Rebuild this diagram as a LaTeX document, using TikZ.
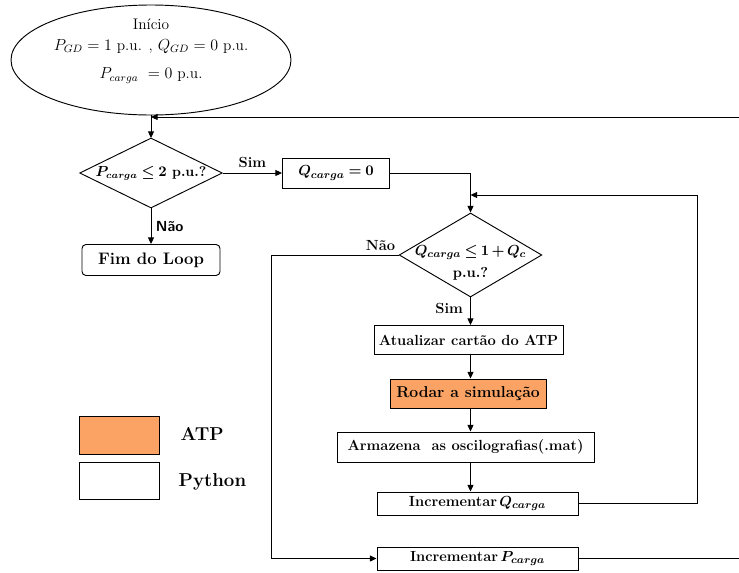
\documentclass[tikz,border=0pt]{standalone}
\usepackage{amsmath,amssymb}
\usepackage{xcolor}
\usetikzlibrary{shapes.geometric,arrows.meta}
\definecolor{atporange}{RGB}{250,163,100}

\begin{document}
\begin{tikzpicture}[x=0.75pt,y=-0.75pt,
  box/.style={draw, rectangle, line width=0.7pt, inner sep=1pt, font=\fontsize{11}{13}\selectfont\bfseries\boldmath},
  decision/.style={draw, diamond, line width=0.7pt, inner sep=0pt, font=\fontsize{10.5}{13}\selectfont\bfseries\boldmath},
  arr/.style={-{Triangle[length=5pt,width=4.5pt]}, line width=0.7pt},
  lbl/.style={font=\fontsize{11}{13}\selectfont\bfseries}]
\useasboundingbox (0,0) rectangle (739,572);

% Start
\node[draw, ellipse, line width=0.7pt, minimum width=210pt, minimum height=82.5pt, inner sep=0pt] (start) at (151,60) {};
\node[align=center, anchor=north, font=\fontsize{11.5}{13.5}\selectfont] (starttxt) at (151,14)
  {Início\\[2pt] $P_{GD} = 1$ p.u. , $Q_{GD} = 0$ p.u.\\[8pt] $P_{carga}\ = 0$ p.u.};

% Outer loop (P_carga)
\coordinate (m1) at (151,117);
\coordinate (rt1) at (739,117);
\draw[arr] (start.south) -- (151,138);
\draw[arr] (rt1) -- (m1);
\node[decision, minimum width=107pt, minimum height=52.5pt] (d1) at (151,173)
  {\makebox[0pt]{\medmuskip=3mu\thickmuskip=4mu$P_{carga} \le 2$ p.u.?}};
\node[draw, rectangle, rounded corners=3pt, line width=0.7pt, minimum width=103.5pt, minimum height=23.25pt,
  font=\fontsize{12.5}{14}\selectfont\bfseries] (fim) at (151,260) {Fim do Loop};
\draw[arr] (d1.south) -- node[right, font=\fontsize{11}{13}\selectfont\sffamily\bfseries] {Não} (fim.north);
\node[box, minimum width=80.25pt, minimum height=22.5pt] (q0) at (336,173) {\thickmuskip=4mu$Q_{carga} = 0$};
\draw[arr] (d1.east) -- node[lbl, above] {Sim} (q0.west);

% Inner loop (Q_carga)
\node[decision, minimum width=107pt, minimum height=63pt, font=\fontsize{10.8}{12}\selectfont\bfseries\boldmath] (d2) at (470.5,255)
  {\makebox[0pt]{\raisebox{-9pt}[0pt][0pt]{\medmuskip=2.5mu\thickmuskip=3.5mu\begin{tabular}{@{}c@{}}$Q_{carga} \le 1 + Q_c$\\[5pt] p.u.?\end{tabular}}}};
\draw[arr] (q0.east) -| (d2.north);
\node[box, minimum width=141.75pt, minimum height=21.75pt] (atu) at (468.5,340) {Atualizar cartão do ATP};
\node[box, fill=atporange, minimum width=117pt, minimum height=21.75pt, font=\fontsize{11.8}{13}\selectfont\bfseries] (rod) at (468,393.5) {Rodar a simulação};
\node[box, minimum width=192.75pt, minimum height=22.5pt] (arm) at (465.5,447) {Armazena\ \ as oscilografias(.mat)};
\node[box, minimum width=150.75pt, minimum height=17.25pt] (incq) at (477.5,503.5) {Incrementar\,$Q_{carga}$};
\node[box, minimum width=150.75pt, minimum height=17.25pt] (incp) at (477.5,558.5) {Incrementar\,$P_{carga}$};

\draw[arr] (d2.south) -- node[lbl, left, pos=0.4, xshift=-2pt] {Sim} (atu.north -| d2.south);
\draw[arr] (atu.south -| d2.south) -- (rod.north -| d2.south);
\draw[arr] (rod.south -| d2.south) -- (arm.north -| d2.south);
\draw[arr] (arm.south -| d2.south) -- (incq.north -| d2.south);

\coordinate (j2) at (470.5,195);
\coordinate (rq) at (697,195);
\draw[arr] (incq.east) -| (rq) -- (j2);
\coordinate (lq) at (271,255);
\draw[arr] (d2.west) node[lbl, above left, xshift=1pt] {Não} -- (lq) |- (incp.west);
\coordinate (rp) at (739,558.5);
\draw[line width=0.7pt] (incp.east) -- (rp);

% Legend
\node[draw, rectangle, line width=0.7pt, fill=atporange, minimum width=60pt, minimum height=28.5pt] (legatp) at (119,435) {};
\node[draw, rectangle, line width=0.7pt, minimum width=60pt, minimum height=27.75pt] (legpy) at (119,480.5) {};
\node[anchor=west, font=\fontsize{14}{16}\selectfont\bfseries] (legatptxt) at (176,434) {ATP};
\node[anchor=west, font=\fontsize{14}{16}\selectfont\bfseries] (legpytxt) at (174,482) {Python};
\end{tikzpicture}
\end{document}
